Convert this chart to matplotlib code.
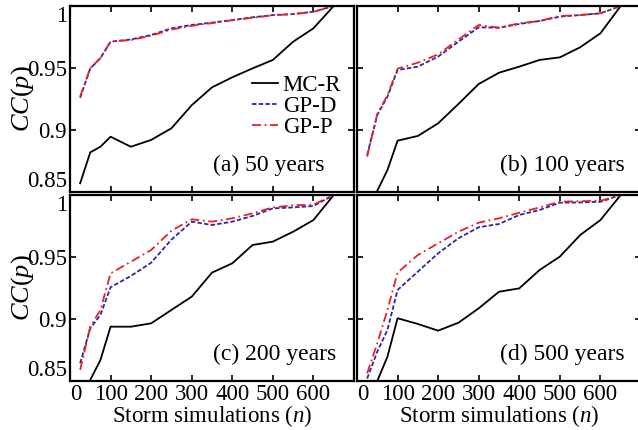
import matplotlib
matplotlib.use('Agg')
import matplotlib.pyplot as plt
import numpy as np

plt.rcParams['font.family'] = 'Liberation Serif'
plt.rcParams['mathtext.fontset'] = 'custom'
plt.rcParams['mathtext.rm'] = 'Liberation Serif'
plt.rcParams['mathtext.it'] = 'Liberation Serif:italic'

# storm simulations
n = np.array([25, 50, 75, 100, 150, 200, 250, 300, 350, 400, 450, 500, 550, 600, 650])

# (a) 50 years
mcr_50 = [0.857, 0.882, 0.8865, 0.8946, 0.8865, 0.892, 0.9014, 0.920, 0.9344, 0.9425, 0.9497, 0.9565, 0.9712, 0.982, 1.0]
gpd_50 = [0.926, 0.9497, 0.958, 0.9712, 0.973, 0.9766, 0.982, 0.9847, 0.9866, 0.9887, 0.9909, 0.9927, 0.9935, 0.9954, 1.0]
gpp_50 = [0.927, 0.950, 0.958, 0.9715, 0.9725, 0.976, 0.981, 0.984, 0.9862, 0.9885, 0.9905, 0.9925, 0.9935, 0.9952, 1.0]

# (b) 100 years
mcr_100 = [0.82, 0.851, 0.8677, 0.8914, 0.8952, 0.9054, 0.921, 0.9371, 0.9462, 0.9511, 0.9565, 0.9586, 0.9667, 0.978, 1.0]
gpd_100 = [0.8798, 0.9121, 0.9269, 0.9484, 0.9511, 0.9592, 0.9712, 0.9828, 0.9825, 0.9855, 0.9879, 0.9914, 0.9927, 0.9941, 1.0]
gpp_100 = [0.8785, 0.913, 0.928, 0.9495, 0.9543, 0.961, 0.973, 0.9847, 0.9825, 0.986, 0.988, 0.992, 0.9927, 0.9941, 1.0]

# (c) 200 years
mcr_200 = [0.82, 0.851, 0.8669, 0.8938, 0.8938, 0.8965, 0.9073, 0.918, 0.9374, 0.9449, 0.9597, 0.9624, 0.9704, 0.9798, 1.0]
gpd_200 = [0.8643, 0.8925, 0.9032, 0.9256, 0.9347, 0.9454, 0.964, 0.9785, 0.9758, 0.9785, 0.9831, 0.9892, 0.990, 0.9911, 1.0]
gpp_200 = [0.8589, 0.8938, 0.9073, 0.9368, 0.9462, 0.9556, 0.9712, 0.9804, 0.9785, 0.9812, 0.9852, 0.990, 0.9917, 0.9922, 1.0]

# (d) 500 years
mcr_500 = [0.82, 0.850, 0.8696, 0.9006, 0.896, 0.8906, 0.897, 0.9086, 0.922, 0.9247, 0.9395, 0.9503, 0.9677, 0.9798, 1.0]
gpd_500 = [0.852, 0.8737, 0.8911, 0.9234, 0.9382, 0.953, 0.9651, 0.974, 0.9766, 0.9839, 0.9879, 0.9938, 0.994, 0.9945, 1.0]
gpp_500 = [0.8562, 0.8804, 0.9073, 0.9374, 0.9516, 0.961, 0.9704, 0.9777, 0.9812, 0.9857, 0.990, 0.9946, 0.995, 0.9953, 1.0]

panels = [
    ('(a) 50 years', mcr_50, gpd_50, gpp_50),
    ('(b) 100 years', mcr_100, gpd_100, gpp_100),
    ('(c) 200 years', mcr_200, gpd_200, gpp_200),
    ('(d) 500 years', mcr_500, gpd_500, gpp_500),
]

W, H = 638, 430
fig = plt.figure(figsize=(W / 100, H / 100), dpi=100)
fs = 16.5

# pixel boxes: left, top, bottom
boxes = [(70, 6, 192), (357, 6, 192), (70, 195, 381), (357, 195, 381)]
axw = 284

for i, (title, mcr, gpd, gpp) in enumerate(panels):
    left, top, bot = boxes[i]
    ax = fig.add_axes([left / W, (H - bot) / H, axw / W, (bot - top) / H])
    ax.plot(n, mcr, '-', color='black', lw=1.3, label='MC-R')
    ax.plot(n, gpd, '--', color='#2a2a9a', lw=1.3, dashes=(2.5, 1.2), label='GP-D')
    ax.plot(n, gpp, '-.', color='#e8202a', lw=1.3, dashes=(5, 2, 1, 2), label='GP-P')
    ax.set_xlim(0, 700)
    ax.set_ylim(0.85, 1.0)
    ax.set_xticks([0, 100, 200, 300, 400, 500, 600])
    ax.set_yticks([0.85, 0.9, 0.95, 1.0])
    ax.tick_params(direction='in', top=True, right=True, length=4, width=1.2,
                   labelsize=fs, pad=2)
    for sp in ax.spines.values():
        sp.set_linewidth(1.6)
    if i % 2 == 0:
        ax.set_yticklabels(['0.85', '0.9', '0.95', '1'])
        labs = ax.get_yticklabels()
        labs[0].set_va('bottom')
        labs[-1].set_va('top')
        ax.set_ylabel('$CC(p)$', fontsize=19)
        ax.yaxis.set_label_coords(-0.12, 0.5)
    else:
        ax.set_yticklabels([])
    if i >= 2:
        ax.set_xticklabels(['0', '100', '200', '300', '400', '500', '600'])
        ax.get_xticklabels()[0].set_ha('left')
        ax.set_xlabel('Storm simulations ($n$)', fontsize=fs, labelpad=-1)
    else:
        ax.set_xticklabels([])
    ax.text(0.505, 0.145, title, transform=ax.transAxes, ha='left', va='center',
            fontsize=17)
    if i == 0:
        ax.legend(loc='upper left', bbox_to_anchor=(0.64, 0.63), frameon=False,
                  fontsize=fs, handlelength=1.15, handletextpad=0.2,
                  labelspacing=0.0, borderpad=0, borderaxespad=0)

fig.savefig('out.png', dpi=100)
